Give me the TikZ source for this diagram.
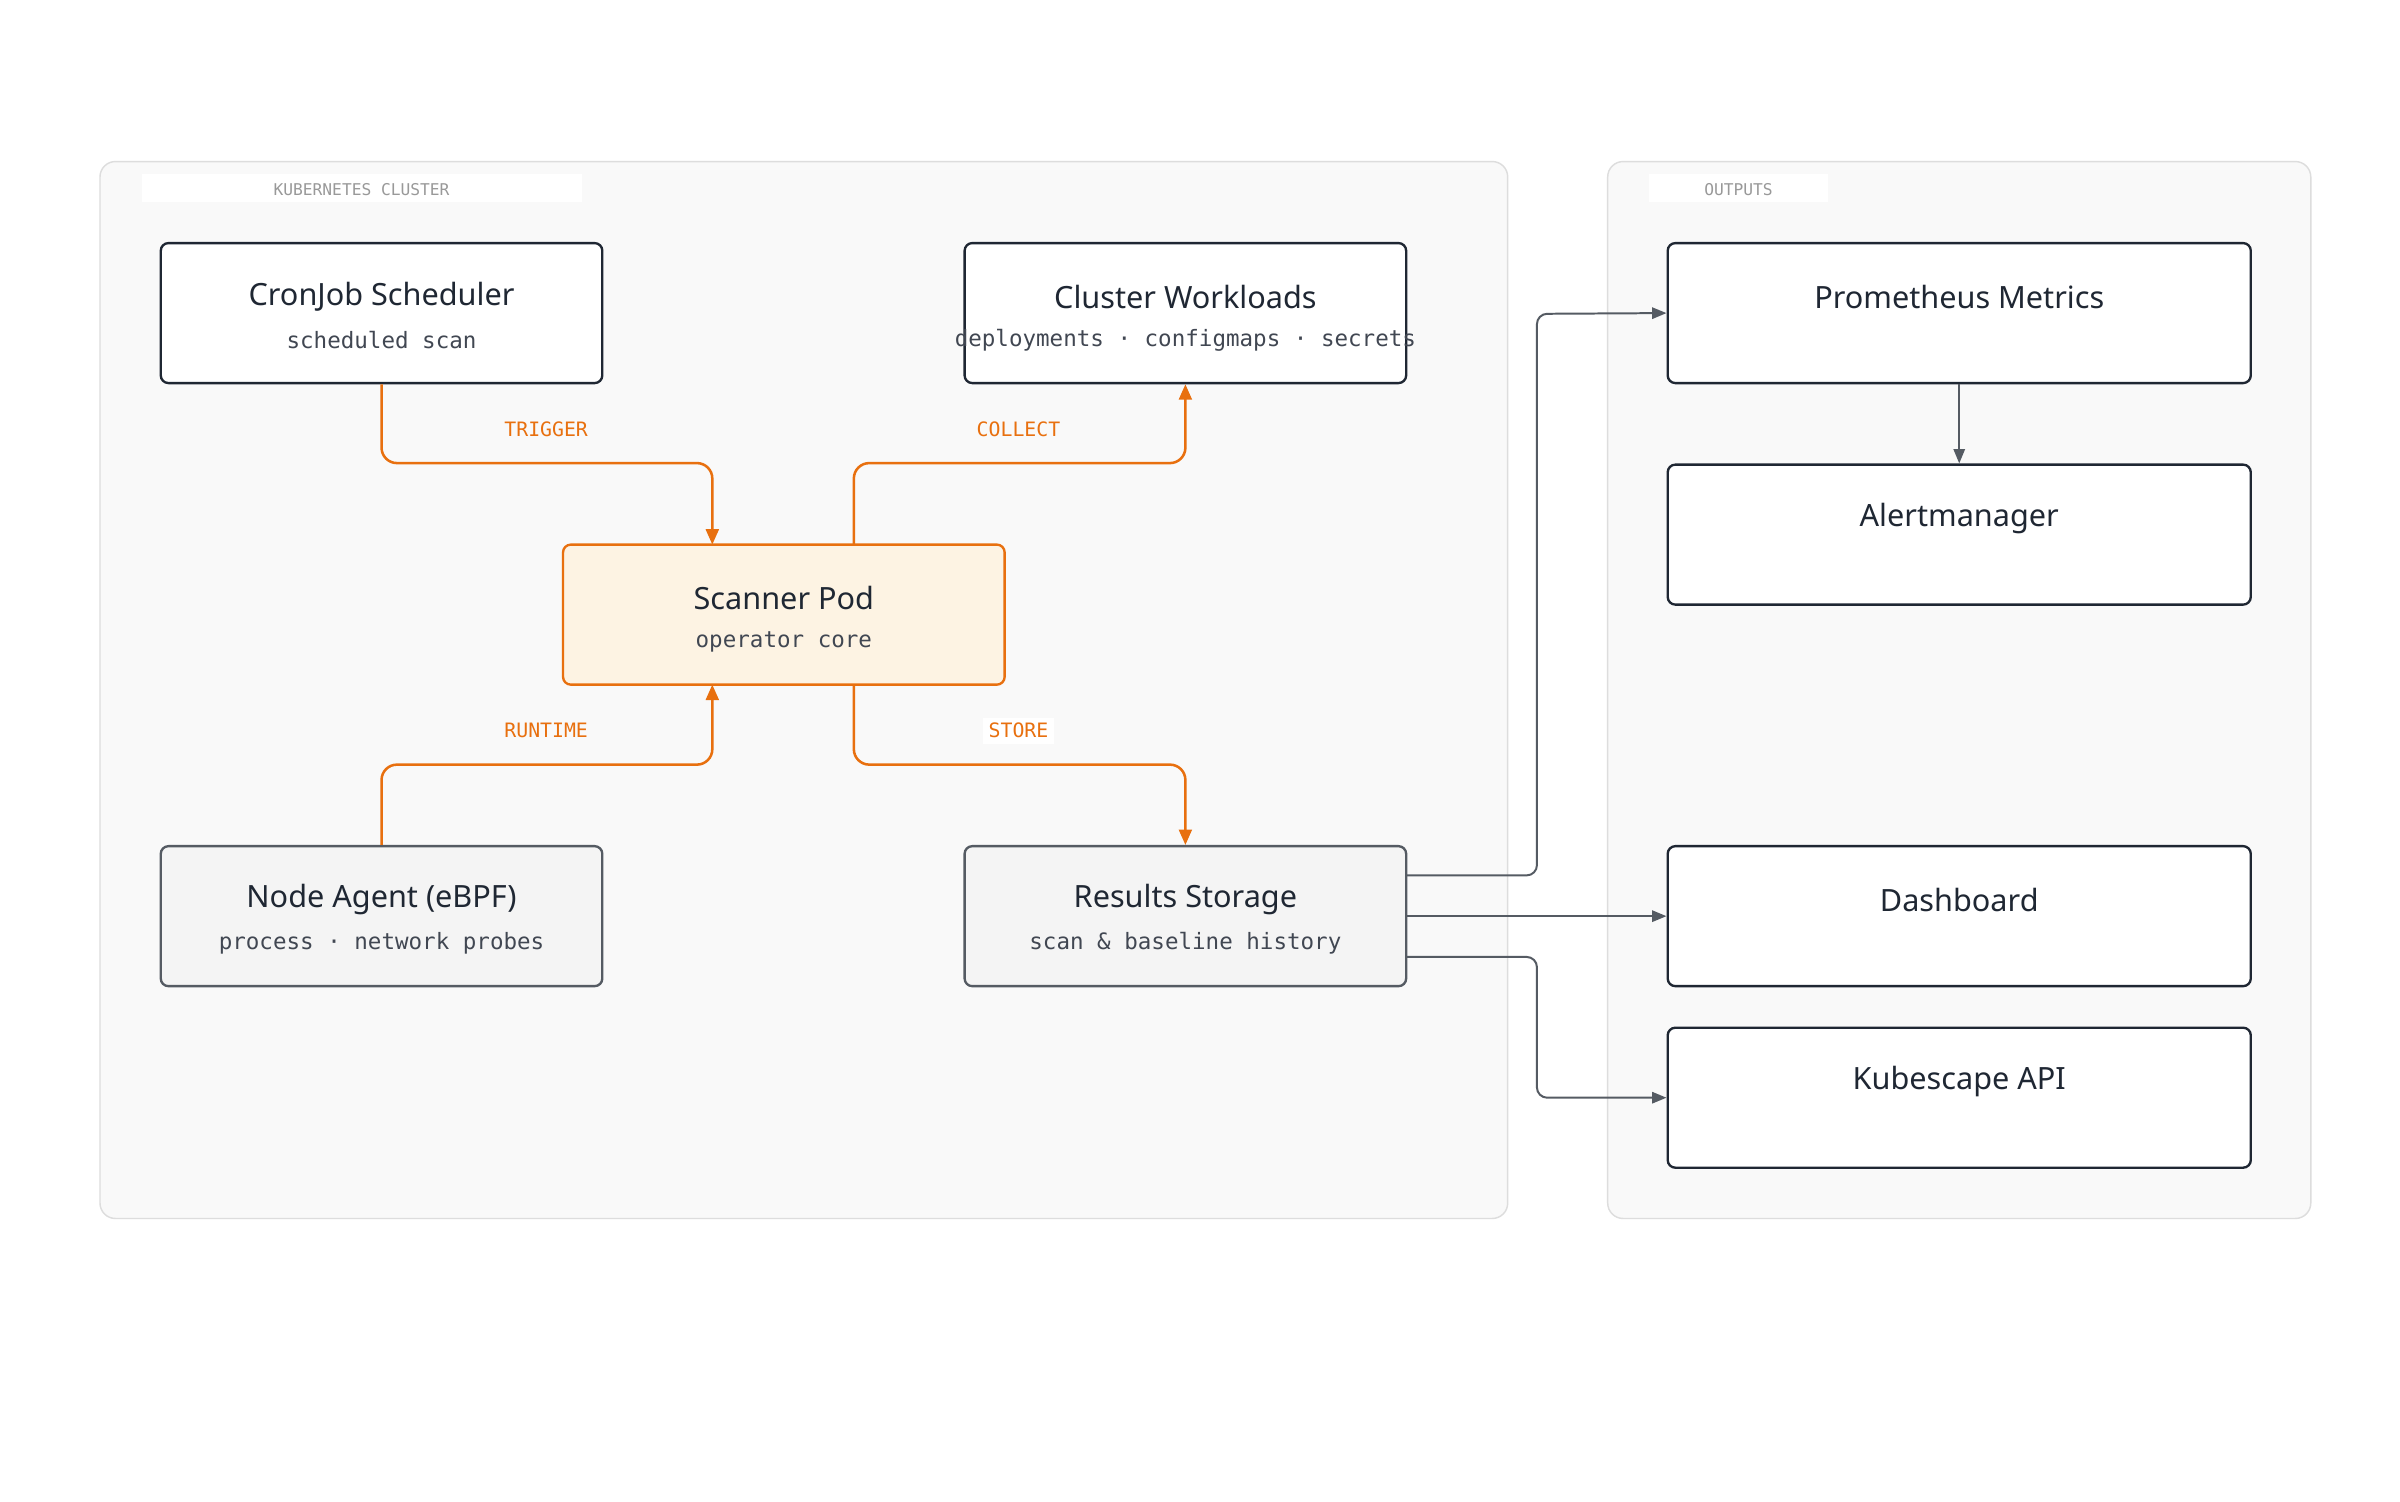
\documentclass[tikz,border=0pt]{standalone}
\usepackage{fontspec}
\setmainfont{Noto Sans}
\newfontfamily\mono{DejaVu Sans Mono}
\usetikzlibrary{arrows.meta}
\definecolor{ink}{HTML}{1F2733}
\definecolor{org}{HTML}{E8700F}
\definecolor{gry}{HTML}{555B63}
\definecolor{cream}{HTML}{FDF3E3}
\definecolor{panel}{HTML}{F9F9F9}
\definecolor{pline}{HTML}{DDDDDD}
\tikzset{
  x=0.03cm,y=-0.03cm,
  panel/.style={draw=pline,fill=panel,line width=0.8pt,rounded corners=0.3cm},
  box/.style={draw=ink,fill=white,line width=1.3pt,rounded corners=0.15cm,minimum width=8.61cm,minimum height=2.73cm},
  obox/.style={box,minimum width=11.37cm},
  title/.style={font=\fontsize{17}{20}\selectfont\bfseries,text=ink},
  sub/.style={font=\mono\fontsize{12.5}{15}\selectfont,text=ink!85},
  plab/.style={font=\mono\fontsize{9}{11}\selectfont,text=gray!80},
  elab/.style={font=\mono\fontsize{11}{13}\selectfont,text=org},
  oe/.style={draw=org,line width=1.4pt,rounded corners=0.3cm,-{Triangle[length=0.3cm,width=0.25cm]}},
  ge/.style={draw=gry,line width=1.1pt,rounded corners=0.2cm,-{Triangle[length=0.28cm,width=0.22cm]}},
}
\begin{document}
\begin{tikzpicture}
\useasboundingbox[fill=white] (0,0) rectangle (1560,976);
\draw[panel] (65,105) rectangle (980,792);
\draw[panel] (1045,105) rectangle (1502,792);
\fill[white] (92,113) rectangle (378,131);
\fill[white] (1072,113) rectangle (1188,131);
\node[plab] (pl1) at (235,123) {KUBERNETES CLUSTER};
\node[plab] (pl2) at (1130,123) {OUTPUTS};

\node[box] (cron) at (248,203.5) {};
\node[title] at (248,193) {CronJob Scheduler};
\node[sub] at (248,221) {scheduled scan};
\node[box] (work) at (770.5,203.5) {};
\node[title] at (770.5,193) {Cluster Workloads};
\node[sub] at (770.5,221) {deployments · configmaps · secrets};
\node[box,draw=org,fill=cream] (scan) at (509.5,399.5) {};
\node[title] at (509.5,389) {Scanner Pod};
\node[sub] at (509.5,417) {operator core};
\node[box,draw=gry,fill=gray!9] (agent) at (248,595.5) {};
\node[title] at (248,585) {Node Agent (eBPF)};
\node[sub] at (248,613) {process · network probes};
\node[box,draw=gry,fill=gray!9] (store) at (770.5,595.5) {};
\node[title] at (770.5,585) {Results Storage};
\node[sub] at (770.5,613) {scan \& baseline history};

\node[obox] (prom) at (1273.5,203.5) {};
\node[title] at (1273.5,193) {Prometheus Metrics};
\node[obox] (alert) at (1273.5,347.5) {};
\node[title] at (1273.5,337) {Alertmanager};
\node[obox] (dash) at (1273.5,595.5) {};
\node[title] at (1273.5,585) {Dashboard};
\node[obox] (api) at (1273.5,713.5) {};
\node[title] at (1273.5,703) {Kubescape API};

\draw[oe] (cron.south) -- (248,301) -- (463,301) -- (463,354);
\draw[oe] (555,354) -- (555,301) -- (770.5,301) -- (work.south);
\draw[oe] (agent.north) -- (248,497) -- (463,497) -- (463,445);
\draw[oe] (555,445) -- (555,497) -- (770.5,497) -- (store.north);
\node[elab] at (355,279) {TRIGGER};
\node[elab] at (662,279) {COLLECT};
\node[elab] at (355,475) {RUNTIME};
\node[elab,fill=white,inner sep=3pt] at (662,475) {STORE};

\draw[ge] (914,569) -- (999,569) -- (999,204) -- (prom.west);
\draw[ge] (914,595.5) -- (dash.west);
\draw[ge] (914,622) -- (999,622) -- (999,713.5) -- (api.west);
\draw[ge] (prom.south) -- (alert.north);
\end{tikzpicture}
\end{document}
